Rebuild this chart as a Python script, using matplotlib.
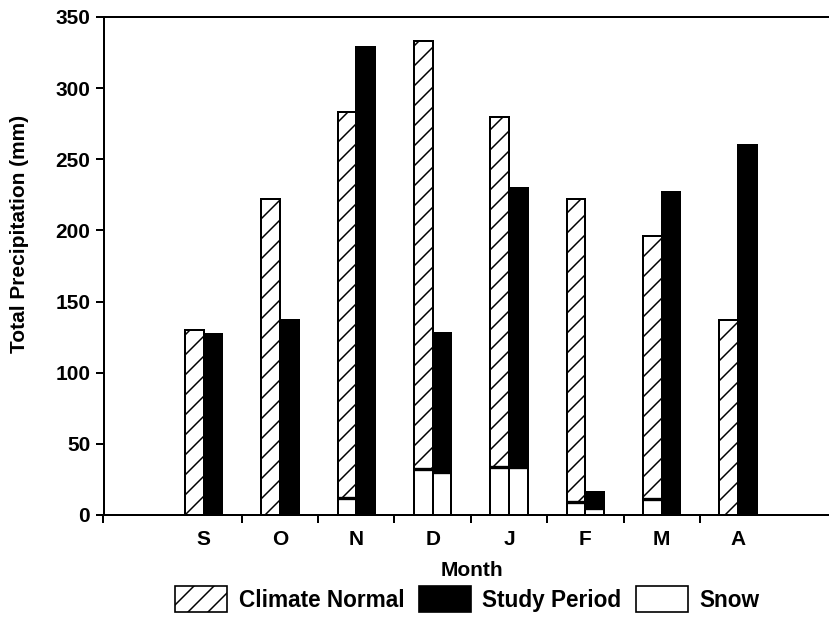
import matplotlib
matplotlib.use("Agg")
import matplotlib.pyplot as plt
from matplotlib.patches import Patch
import numpy as np

# monthly precipitation totals (mm), Sept..April
months = ["S", "O", "N", "D", "J", "F", "M", "A"]
climate_normal = [130, 222, 283, 333, 280, 222, 196, 137]
study_period = [127, 137, 329, 128, 230, 16, 227, 260]
# snow portion of each total
snow_normal = [0, 0, 12, 32, 34, 9, 11, 0]
snow_study = [0, 0, 0, 30, 34, 5, 0, 0]

plt.rcParams["font.family"] = ["Liberation Sans", "DejaVu Sans"]
plt.rcParams["font.weight"] = "bold"
plt.rcParams["axes.labelweight"] = "bold"
plt.rcParams["hatch.linewidth"] = 0.9
plt.rcParams["hatch.color"] = "black"

DPI = 120
fig = plt.figure(figsize=(829 / DPI, 617 / DPI), dpi=DPI)
ax = fig.add_axes([103.5 / 829, 1 - 515 / 617, 1 - 103.5 / 829, 498 / 617])

x = np.arange(len(months))
w = 0.245

ax.bar(x - w, climate_normal, w, align="edge", color="white",
       edgecolor="black", hatch="//", linewidth=1.2)
ax.bar(x, study_period, w, align="edge", color="black",
       edgecolor="black", linewidth=1.2)

# snow drawn as open boxes at the foot of each bar, heavier top edge
for offset, snow in [(-w, snow_normal), (0, snow_study)]:
    idx = [i for i, v in enumerate(snow) if v > 0]
    vals = [snow[i] for i in idx]
    ax.bar(x[idx] + offset, vals, w, align="edge",
           color="white", edgecolor="black", linewidth=1.2)
    ax.hlines(vals, x[idx] + offset, x[idx] + offset + w,
              color="black", linewidth=2.0)

ax.set_xlim(-1.31, 8.19)
ax.set_ylim(0, 350)
ax.set_yticks(np.arange(0, 351, 50))
ax.set_xticks(x)
ax.set_xticklabels(months)
ax.set_xticks(list(np.arange(0.5, 7, 1)) + [-1.31], minor=True)

ax.tick_params(axis="x", which="major", length=0, pad=9, labelsize=12.5)
ax.tick_params(axis="x", which="minor", length=5, width=1.2, direction="out")
ax.tick_params(axis="y", length=5, width=1.2, direction="out", pad=3,
               labelsize=12.5)

for side in ["left", "bottom", "top"]:
    ax.spines[side].set_linewidth(1.2)
ax.spines["right"].set_visible(False)

ax.set_xlabel("Month", fontsize=12.5, va="center")
ax.xaxis.set_label_coords((472 - 103.5) / 725.5, (515 - 571) / 498)
ax.set_ylabel("Total Precipitation (mm)", fontsize=12.5, va="center")
ax.yaxis.set_label_coords((20 - 103.5) / 725.5, (515 - 234) / 498)

handles = [
    Patch(facecolor="white", edgecolor="black", hatch="//", linewidth=1.0),
    Patch(facecolor="black", edgecolor="black"),
    Patch(facecolor="white", edgecolor="black", linewidth=1.0),
]
fig.legend(handles, ["Climate Normal", "Study Period", "Snow"],
           loc="center", bbox_to_anchor=(467.5 / 829, 1 - 599 / 617),
           ncol=3, frameon=False, prop={"size": 13.6, "weight": "bold"},
           handlelength=2.3, handleheight=1.4, handletextpad=0.5,
           columnspacing=0.65, borderpad=0)

fig.savefig("out.png", dpi=DPI)
